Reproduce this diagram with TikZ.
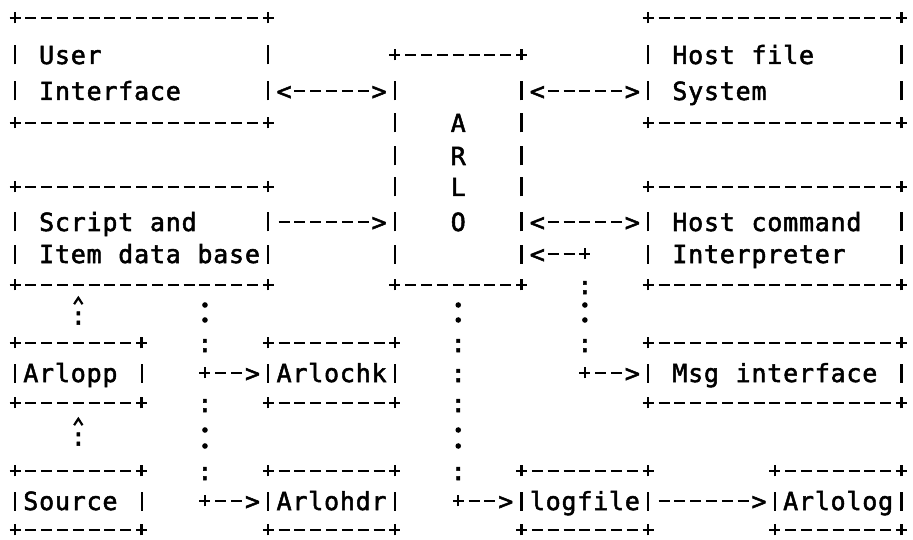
\documentclass[tikz,border=0pt]{standalone}
\usepackage{fontspec}
\setmonofont{DejaVu Sans Mono}[FakeBold=2]
\newlength\cw \setlength\cw{15.83pt}
\newcommand\dashcell{\makebox[\cw][c]{\rule[7.85pt]{11pt}{2.4pt}}}
\newcommand\pluscell{\makebox[\cw][c]{\rule[7.85pt]{11pt}{2.4pt}\kern-6.7pt\rule[3.55pt]{2.4pt}{11pt}\kern4.3pt}}
\newcommand\barcell{\makebox[\cw][c]{\rule[-0.5pt]{2.3pt}{19pt}}}
\newcommand\blankcell{\makebox[\cw]{}}
\newcommand\charcell[1]{\makebox[\cw][c]{#1}}
\ExplSyntaxOn
\NewDocumentCommand\asciirow{m}{
  \str_map_inline:nn {#1}
   {
     \str_case:nnF {##1}
       {
         {-}{\dashcell}
         {+}{\pluscell}
         {|}{\barcell}
         {.}{\blankcell}
       }
       {\charcell{##1}}
   }
}
\ExplSyntaxOff
\begin{document}
\begin{tikzpicture}[x=1pt,y=-1pt,
  row/.style={anchor=base west,inner sep=0pt,outer sep=0pt,font=\ttfamily\fontsize{25}{30}\selectfont},
  bigdot/.style={fill=black},
  caret/.style={draw=black,line width=2.2pt,line cap=butt,line join=miter}]
\fill[white] (0,0) rectangle (913,540);
\useasboundingbox (0,0) rectangle (913,540);
\def\xo{7.1}
\node[row] (r0)  at (\xo,27)  {\asciirow{+---------------+.......................+---------------+}};
\node[row] (r1)  at (\xo,64)  {\asciirow{|.User..........|.......+-------+.......|.Host.file.....|}};
\node[row] (r2)  at (\xo,100) {\asciirow{|.Interface.....|<----->|.......|<----->|.System........|}};
\node[row] (r3)  at (\xo,132) {\asciirow{+---------------+.......|...A...|.......+---------------+}};
\node[row] (r4)  at (\xo,165) {\asciirow{........................|...R...|}};
\node[row] (r5)  at (\xo,196) {\asciirow{+---------------+.......|...L...|.......+---------------+}};
\node[row] (r6)  at (\xo,231) {\asciirow{|.Script.and....|------>|...O...|<----->|.Host.command..|}};
\node[row] (r7)  at (\xo,263) {\asciirow{|.Item.data.base|.......|.......|<--+...|.Interpreter...|}};
\node[row] (r8)  at (\xo,294) {\asciirow{+---------------+.......+-------+...:...+---------------+}};
\node[row] (r9)  at (\xo,324.5) {\asciirow{....:}};
\node[row] (r10) at (\xo,352) {\asciirow{+-------+...:...+-------+...:.......:...+---------------+}};
\node[row] (r11) at (\xo,382) {\asciirow{|Arlopp.|...+-->|Arlochk|...:.......+-->|.Msg.interface.|}};
\node[row] (r12) at (\xo,412) {\asciirow{+-------+...:...+-------+...:...........+---------------+}};
\node[row] (r13) at (\xo,445.5) {\asciirow{....:}};
\node[row] (r14) at (\xo,480) {\asciirow{+-------+...:...+-------+...:...+-------+.......+-------+}};
\node[row] (r15) at (\xo,510) {\asciirow{|Source.|...+-->|Arlohdr|...+-->|logfile|------>|Arlolog|}};
\node[row] (r16) at (\xo,539) {\asciirow{+-------+.......+-------+.......+-------+.......+-------+}};
% carets (arrow heads pointing up)
\coordinate (c9) at (\xo+4*15.83+7.9,301);
\coordinate (c13) at (\xo+4*15.83+7.9,422);
\foreach \p in {c9,c13} {
  \draw[caret] ([shift={(-4.2,3.2)}]\p) -- ([shift={(0,-3.2)}]\p) -- ([shift={(4.2,3.2)}]\p);
}
% enlarged colon dots
\foreach \c in {12,28,36} {
  \fill[bigdot] (\xo+\c*15.83+7.9,305) circle (2.8);
  \fill[bigdot] (\xo+\c*15.83+7.9,320) circle (2.8);
}
\foreach \c in {12,28} {
  \fill[bigdot] (\xo+\c*15.83+7.9,430) circle (2.8);
  \fill[bigdot] (\xo+\c*15.83+7.9,446) circle (2.8);
}
\end{tikzpicture}
\end{document}
